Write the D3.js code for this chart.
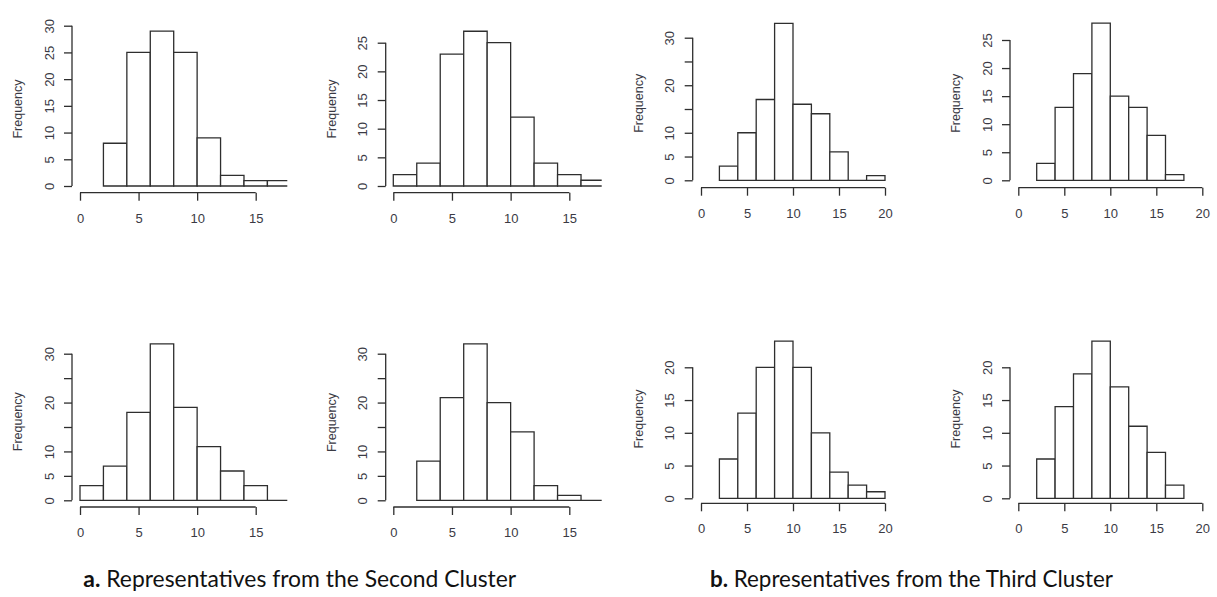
<!DOCTYPE html>
<html>
<head>
<meta charset="utf-8">
<script src="https://cdn.jsdelivr.net/npm/d3@7"></script>
<style>
  html, body { margin: 0; padding: 0; background: #fff; }
  svg { display: block; }
</style>
</head>
<body>
<svg id="chart" width="1217" height="597"></svg>
<script>
// ---- Data ----
const binWidth = 2;
const p1Bins = [2, 4, 6, 8, 10, 12, 14, 16];
const p1Counts = [8, 25, 29, 25, 9, 2, 1, 1];
const p2Bins = [0, 2, 4, 6, 8, 10, 12, 14, 16];
const p2Counts = [2, 4, 23, 27, 25, 12, 4, 2, 1];
const p3Bins = [2, 4, 6, 8, 10, 12, 14, 16, 18];
const p3Counts = [3, 10, 17, 33, 16, 14, 6, 0, 1];
const p4Bins = [2, 4, 6, 8, 10, 12, 14, 16];
const p4Counts = [3, 13, 19, 28, 15, 13, 8, 1];
const p5Bins = [0, 2, 4, 6, 8, 10, 12, 14, 16];
const p5Counts = [3, 7, 18, 32, 19, 11, 6, 3, 0];
const p6Bins = [2, 4, 6, 8, 10, 12, 14, 16];
const p6Counts = [8, 21, 32, 20, 14, 3, 1, 0];
const p7Bins = [2, 4, 6, 8, 10, 12, 14, 16, 18];
const p7Counts = [6, 13, 20, 24, 20, 10, 4, 2, 1];
const p8Bins = [2, 4, 6, 8, 10, 12, 14, 16];
const p8Counts = [6, 14, 19, 24, 17, 11, 7, 2];

const xTicks15 = [0, 5, 10, 15];
const xTicks20 = [0, 5, 10, 15, 20];
const yTicks25 = [0, 5, 10, 15, 20, 25];
const yTicks30 = [0, 5, 10, 15, 20, 25, 30];
const yTicks20 = [0, 5, 10, 15, 20];
const yLabels30Sparse = [0, 5, 10, 20, 30];

const yAxisTitle = "Frequency";
const captionA = ["a.", " Representatives from the Second Cluster"];
const captionB = ["b.", " Representatives from the Third Cluster"];

// ---- Layout (pixel geometry of each panel) ----
const panels = [
  { bins: p1Bins, counts: p1Counts, xTicks: xTicks15, yTicks: yTicks30, yLabels: yTicks30,
    ax: 72, x0: 80, xMaxPx: 255.7, xMaxVal: 15, y0: 186, yTopPx: 25.7, yTopVal: 30, axisY: 192.7, clipR: 287.3, titleY: 109 },
  { bins: p2Bins, counts: p2Counts, xTicks: xTicks15, yTicks: yTicks25, yLabels: yTicks25,
    ax: 385.7, x0: 393.3, xMaxPx: 569.3, xMaxVal: 15, y0: 186, yTopPx: 42.7, yTopVal: 25, axisY: 192.7, clipR: 601.7, titleY: 109 },
  { bins: p3Bins, counts: p3Counts, xTicks: xTicks20, yTicks: yTicks30, yLabels: yLabels30Sparse,
    ax: 692.7, x0: 701, xMaxPx: 885, xMaxVal: 20, y0: 180.3, yTopPx: 37.7, yTopVal: 30, axisY: 187.7, clipR: 905, titleY: 103.3 },
  { bins: p4Bins, counts: p4Counts, xTicks: xTicks20, yTicks: yTicks25, yLabels: yTicks25,
    ax: 1010, x0: 1018.3, xMaxPx: 1202.3, xMaxVal: 20, y0: 180.3, yTopPx: 40, yTopVal: 25, axisY: 187.7, clipR: 1217, titleY: 103.3 },
  { bins: p5Bins, counts: p5Counts, xTicks: xTicks15, yTicks: yTicks30, yLabels: yLabels30Sparse,
    ax: 72, x0: 80, xMaxPx: 255.7, xMaxVal: 15, y0: 500.3, yTopPx: 353.7, yTopVal: 30, axisY: 507, clipR: 287.3, titleY: 421.7 },
  { bins: p6Bins, counts: p6Counts, xTicks: xTicks15, yTicks: yTicks30, yLabels: yLabels30Sparse,
    ax: 385.7, x0: 393.3, xMaxPx: 569.3, xMaxVal: 15, y0: 500.3, yTopPx: 353.7, yTopVal: 30, axisY: 507, clipR: 601.7, titleY: 422.5 },
  { bins: p7Bins, counts: p7Counts, xTicks: xTicks20, yTicks: yTicks20, yLabels: yTicks20,
    ax: 692.7, x0: 701, xMaxPx: 885, xMaxVal: 20, y0: 498.3, yTopPx: 367.3, yTopVal: 20, axisY: 503.3, clipR: 905, titleY: 419 },
  { bins: p8Bins, counts: p8Counts, xTicks: xTicks20, yTicks: yTicks20, yLabels: yTicks20,
    ax: 1010, x0: 1018.3, xMaxPx: 1202.3, xMaxVal: 20, y0: 498.3, yTopPx: 367.3, yTopVal: 20, axisY: 503.3, clipR: 1217, titleY: 419 }
];

const LINE = "#2e2e2e";
const TEXT = "#3a3a44";
const svg = d3.select("#chart");
const defs = svg.append("defs");

panels.forEach((p, i) => {
  const x = d3.scaleLinear().domain([0, p.xMaxVal]).range([p.x0, p.xMaxPx]);
  const y = d3.scaleLinear().domain([0, p.yTopVal]).range([p.y0, p.yTopPx]);
  const g = svg.append("g").attr("class", "panel");

  defs.append("clipPath").attr("id", "clip" + i)
    .append("rect").attr("x", p.ax).attr("y", 0).attr("width", p.clipR - p.ax).attr("height", 597);

  // bars (as closed paths, so zero-count bins still show as a line)
  g.append("g").attr("clip-path", `url(#clip${i})`)
    .selectAll("path").data(p.bins.map((b, j) => ({ b, c: p.counts[j] })))
    .join("path")
    .attr("d", d => `M${x(d.b)},${y(0)}V${y(d.c)}H${x(d.b + binWidth)}V${y(0)}Z`)
    .attr("fill", "#fff")
    .attr("stroke", LINE)
    .attr("stroke-width", 1.3)
    .attr("stroke-linejoin", "miter");

  // y axis
  const yAxis = d3.axisLeft(y).tickValues(p.yTicks).tickSize(8).tickPadding(0)
    .tickFormat(d => p.yLabels.includes(d) ? d : "");
  const ya = g.append("g").attr("transform", `translate(${p.ax},0)`).call(yAxis);
  ya.select(".domain").attr("d", `M0,${y(0)}V${y(d3.max(p.yTicks))}`).attr("stroke", LINE).attr("stroke-width", 1.3);
  ya.selectAll(".tick line").attr("stroke", LINE).attr("stroke-width", 1.3);
  ya.selectAll(".tick text")
    .attr("x", null).attr("dy", null)
    .attr("transform", "translate(-23,0) rotate(-90)")
    .attr("text-anchor", "middle")
    .attr("dominant-baseline", "central")
    .attr("fill", TEXT)
    .style("font-family", "'Liberation Sans', Arial, sans-serif")
    .style("font-size", "13px");

  // x axis
  const xAxis = d3.axisBottom(x).tickValues(p.xTicks).tickSize(8).tickPadding(0);
  const xa = g.append("g").attr("transform", `translate(0,${p.axisY})`).call(xAxis);
  xa.select(".domain").attr("d", `M${x(d3.min(p.xTicks))},0H${x(d3.max(p.xTicks))}`).attr("stroke", LINE).attr("stroke-width", 1.3);
  xa.selectAll(".tick line").attr("stroke", LINE).attr("stroke-width", 1.3);
  xa.selectAll(".tick text")
    .attr("y", 25.5).attr("dy", null)
    .attr("dominant-baseline", "central")
    .attr("fill", TEXT)
    .style("font-family", "'Liberation Sans', Arial, sans-serif")
    .style("font-size", "13px");

  // y title
  g.append("text")
    .attr("transform", `translate(${p.ax - 54},${p.titleY}) rotate(-90)`)
    .attr("text-anchor", "middle")
    .attr("dominant-baseline", "central")
    .attr("fill", TEXT)
    .style("font-family", "'Liberation Sans', Arial, sans-serif")
    .style("font-size", "12.5px")
    .text(yAxisTitle);
});

// captions
function caption(parts, xStart, baseline, targetW) {
  const t = svg.append("text")
    .attr("x", xStart).attr("y", baseline)
    .attr("fill", "#111")
    .style("font-family", "Lato, 'Open Sans', sans-serif")
    .style("font-size", "20px");
  t.append("tspan").attr("font-weight", "bold").text(parts[0]);
  t.append("tspan").text(parts[1]);
  const w = t.node().getComputedTextLength();
  t.style("font-size", (20 * targetW / w).toFixed(2) + "px");
}
caption(captionA, 83.3, 587, 433);
caption(captionB, 710, 587, 403);
</script>
</body>
</html>
